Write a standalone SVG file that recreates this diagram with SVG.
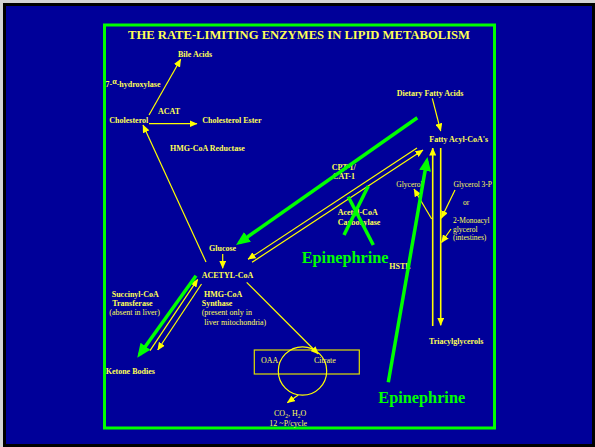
<svg xmlns="http://www.w3.org/2000/svg" width="595" height="447" viewBox="0 0 595 447">
<style>
text{font-family:"Liberation Serif","Times New Roman",serif;fill:#ffff55}
.b{font-size:8px;font-weight:bold}
.n{font-size:8px}
.s{font-size:7.5px}
.ep{font-size:16.3px;font-weight:bold;fill:#00ff00}
.y{stroke:#ffff00;stroke-width:1.2;fill:none}
.yt{stroke:#ffff00;stroke-width:1.6;fill:none}
.g{stroke:#00ff00;stroke-width:3.5;fill:none}
</style>
<defs>
<marker id="ya" markerUnits="userSpaceOnUse" markerWidth="8" markerHeight="7" viewBox="0 0 8 7" refX="7.5" refY="3.5" orient="auto"><path d="M0,0 L8,3.5 L0,7 z" fill="#ffff00"/></marker>
<marker id="ga" markerUnits="userSpaceOnUse" markerWidth="14" markerHeight="12" viewBox="0 0 14 12" refX="10" refY="6" orient="auto"><path d="M0,0 L14,6 L0,12 z" fill="#00ff00"/></marker>
</defs>
<rect x="0" y="0" width="595" height="447" fill="#d4d4d4"/>
<rect x="3" y="3" width="592" height="444" fill="#000000"/>
<rect x="6" y="6" width="586" height="438" fill="#000099"/>
<rect x="104.5" y="25" width="390" height="403" fill="none" stroke="#00ff00" stroke-width="3"/>
<text x="128" y="39" font-size="12.5" font-weight="bold" textLength="342" lengthAdjust="spacingAndGlyphs">THE RATE-LIMITING ENZYMES IN LIPID METABOLISM</text>

<g id="bile-acids"><text class="b" x="178" y="57">Bile Acids</text></g>
<g id="hydroxylase"><text class="b" x="105.5" y="87">7-<tspan dy="-3">α</tspan><tspan dy="3">-hydroxylase</tspan></text></g>
<g id="acat"><text class="b" x="158" y="114">ACAT</text></g>
<g id="cholesterol"><text class="b" x="109.3" y="123.3">Cholesterol</text></g>
<g id="cholesterol-ester"><text class="b" x="202.3" y="123.3">Cholesterol Ester</text></g>
<g id="hmg-reductase"><text class="b" x="170" y="151">HMG-CoA Reductase</text></g>
<g id="dietary"><text class="b" x="396.7" y="95.7">Dietary Fatty Acids</text></g>
<g id="fatty-acyl"><text class="b" x="429.3" y="142.3">Fatty Acyl-CoA's</text></g>
<g id="cpt"><text class="b" x="331.7" y="170">CPT-1/</text><text class="b" x="332.7" y="179">CAT-1</text></g>
<g id="acc"><text class="b" x="337.7" y="215.3">Acetyl-CoA</text><text class="b" x="337.7" y="225">Carboxylase</text></g>
<g id="glycerol"><text class="s" x="396.3" y="187">Glycerol</text></g>
<g id="glycerol3p"><text class="s" x="453.5" y="186.5">Glycerol 3-P</text><text class="s" x="463" y="205">or</text><text class="s" x="453" y="223.3">2-Monoacyl</text><text class="s" x="453" y="231.7">glycerol</text><text class="s" x="453" y="239.5">(intestines)</text></g>
<g id="glucose"><text class="b" x="209" y="250.7">Glucose</text></g>
<g id="acetyl-coa"><text class="b" x="201.7" y="278.3">ACETYL-CoA</text></g>
<g id="hmg-synthase"><text class="b" x="204" y="296.7">HMG-CoA</text><text class="b" x="201.7" y="306">Synthase</text><text class="n" x="201.7" y="315">(present only in</text><text class="n" x="204.3" y="325">liver mitochondria)</text></g>
<g id="succinyl"><text class="b" x="111.7" y="296.7">Succinyl-CoA</text><text class="b" x="112.3" y="306">Transferase</text><text class="n" x="109.3" y="315">(absent in liver)</text></g>
<g id="ketone"><text class="b" x="105.7" y="374">Ketone Bodies</text></g>
<g id="hstl"><text class="b" x="389.3" y="269" font-size="7.5">HSTL</text></g>
<g id="triacyl"><text class="b" x="429" y="344">Triacylglycerols</text></g>
<g id="tca"><rect x="254.3" y="350" width="105" height="24" fill="none" stroke="#e0e000" stroke-width="1.2"/><circle cx="302.5" cy="371" r="24.2" fill="none" stroke="#ffff00" stroke-width="1.2"/><text class="n" x="261" y="362.7">OAA</text><text class="n" x="314" y="362.7">Citrate</text></g>
<g id="co2"><text class="n" x="274" y="416">CO<tspan font-size="5.5" dy="1.5">2</tspan><tspan dy="-1.5">, H</tspan><tspan font-size="5.5" dy="1.5">2</tspan><tspan dy="-1.5">O</tspan></text><text class="n" x="269.3" y="426">12 ~P/cycle</text></g>

<g id="connectors">
<line class="y" x1="149" y1="115" x2="180.7" y2="59.3" marker-end="url(#ya)"/>
<line class="y" x1="149" y1="123.7" x2="197" y2="123.7" marker-end="url(#ya)"/>
<line class="y" x1="206" y1="262" x2="143" y2="125" marker-end="url(#ya)"/>
<line class="y" x1="432.3" y1="98.3" x2="440.7" y2="131" marker-end="url(#ya)"/>
<line class="y" x1="222.7" y1="254" x2="222.7" y2="268.3" marker-end="url(#ya)"/>
<line class="y" x1="246.7" y1="282.3" x2="318.3" y2="354" marker-end="url(#ya)"/>
<line class="y" x1="298.3" y1="395" x2="287.3" y2="402.7" marker-end="url(#ya)"/>
<line class="y" x1="417" y1="148" x2="248" y2="259.3" marker-end="url(#ya)"/>
<line class="y" x1="252" y1="262.3" x2="423" y2="150" marker-end="url(#ya)"/>
<line class="y" x1="150" y1="350.7" x2="197.7" y2="279.3" marker-end="url(#ya)"/>
<line class="y" x1="201.5" y1="284" x2="157.7" y2="350" marker-end="url(#ya)"/>
<line class="y" x1="431.7" y1="219" x2="414" y2="189" marker-end="url(#ya)"/>
<line class="y" x1="455" y1="190" x2="441.3" y2="218.3" marker-end="url(#ya)"/>
<line class="y" x1="451" y1="229" x2="441.5" y2="242.5" marker-end="url(#ya)"/>
<line class="yt" x1="432.7" y1="326" x2="432.7" y2="148" marker-end="url(#ya)"/>
<line class="yt" x1="440.7" y1="148" x2="440.7" y2="325.3" marker-end="url(#ya)"/>
<line class="g" x1="417.3" y1="117.7" x2="239.3" y2="242.7" marker-end="url(#ga)"/>
<line class="g" x1="388.3" y1="382.3" x2="426.8" y2="160.9" marker-end="url(#ga)"/>
<line class="g" x1="196" y1="275.7" x2="139.6" y2="354.4" marker-end="url(#ga)"/>
<line class="g" x1="348.3" y1="196.7" x2="373.3" y2="245"/>
<line class="g" x1="368.3" y1="186" x2="344" y2="235"/>
</g>
<g id="epinephrine1"><text class="ep" x="301.7" y="263.3">Epinephrine</text></g>
<g id="epinephrine2"><text class="ep" x="378.3" y="402.7">Epinephrine</text></g>
</svg>
